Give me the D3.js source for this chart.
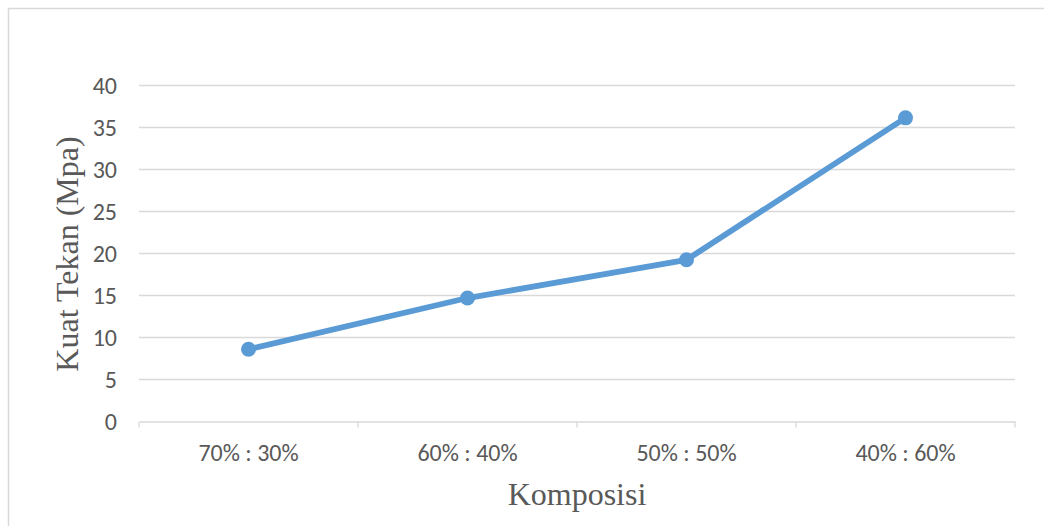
<!DOCTYPE html>
<html><head><meta charset="utf-8">
<script src="https://cdn.jsdelivr.net/npm/d3@7"></script>
<style>body{margin:0;background:#fff}svg{display:block}</style>
</head><body>
<svg id="c" width="1044" height="526"></svg>
<script>
const categories = ["70% : 30%", "60% : 40%", "50% : 50%", "40% : 60%"];
const values = [8.6, 14.7, 19.25, 36.15];
const yTicks = [0, 5, 10, 15, 20, 25, 30, 35, 40];
const yTitle = "Kuat Tekan (Mpa)";
const xTitle = "Komposisi";

const svg = d3.select("#c");
const L = 139, R = 1015, T = 85.5, B = 421.5;

svg.append("rect").attr("x", 8.5).attr("y", 8.5).attr("width", 1100).attr("height", 600)
  .attr("fill", "#fff").attr("stroke", "#d9d9d9").attr("stroke-width", 1.5);

const x = d3.scaleBand().domain(categories).range([L, R]);
const y = d3.scaleLinear().domain([0, 40]).range([B, T]);

// gridlines
svg.append("g").selectAll("line").data(yTicks.filter(d => d > 0)).join("line")
  .attr("x1", L).attr("x2", R).attr("y1", d => y(d)).attr("y2", d => y(d))
  .attr("stroke", "#d9d9d9").attr("stroke-width", 1.3);

// y axis labels
const ya = svg.append("g").attr("transform", `translate(${L},0)`)
  .call(d3.axisLeft(y).tickValues(yTicks).tickSize(0).tickPadding(22));
ya.select(".domain").remove();
ya.selectAll("text").attr("font-family", "Carlito, 'Open Sans', sans-serif")
  .attr("font-size", 24).attr("fill", "#595959");

// x axis
const xa = svg.append("g").attr("transform", `translate(0,${B})`)
  .call(d3.axisBottom(x).tickSizeInner(0).tickSizeOuter(0).tickPadding(22));
xa.select(".domain").attr("stroke", "#d9d9d9").attr("stroke-width", 1.3);
xa.selectAll("text").attr("font-family", "Carlito, 'Open Sans', sans-serif")
  .attr("font-size", 24).attr("fill", "#595959");
// category separators
svg.append("g").selectAll("line").data(categories.concat(["__end"])).join("line")
  .attr("x1", (d, i) => i < categories.length ? x(d) : R)
  .attr("x2", (d, i) => i < categories.length ? x(d) : R)
  .attr("y1", B).attr("y2", B + 6)
  .attr("stroke", "#d9d9d9").attr("stroke-width", 1.3);

// line
const cx = d => x(d) + x.bandwidth() / 2;
svg.append("path").datum(values)
  .attr("d", d3.line().x((d, i) => cx(categories[i])).y(d => y(d)))
  .attr("fill", "none").attr("stroke", "#5b9bd5").attr("stroke-width", 5.8)
  .attr("stroke-linejoin", "round");
svg.append("g").selectAll("circle").data(values).join("circle")
  .attr("cx", (d, i) => cx(categories[i])).attr("cy", d => y(d)).attr("r", 7.5)
  .attr("fill", "#5b9bd5");

// titles
svg.append("text").attr("transform", `translate(78,254) rotate(-90)`)
  .attr("text-anchor", "middle").attr("font-family", "'Liberation Serif', 'Times New Roman', serif")
  .attr("font-size", 32).attr("fill", "#595959").text(yTitle);
svg.append("text").attr("x", 577).attr("y", 505)
  .attr("text-anchor", "middle").attr("font-family", "'Liberation Serif', 'Times New Roman', serif")
  .attr("font-size", 32).attr("fill", "#595959").text(xTitle);
</script>
</body></html>
